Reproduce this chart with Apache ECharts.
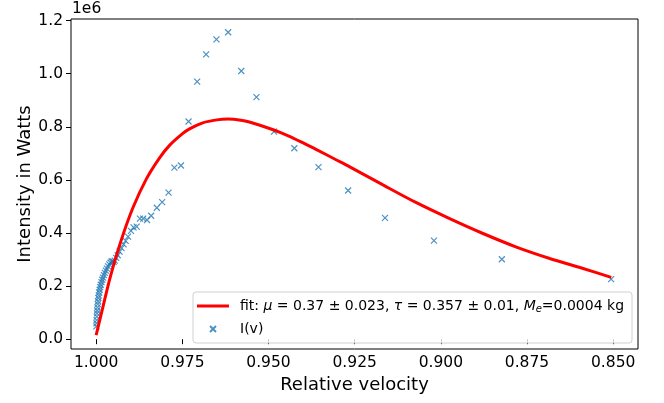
<!DOCTYPE html>
<html><head><meta charset="utf-8">
<script src="https://cdn.jsdelivr.net/npm/echarts@6/dist/echarts.min.js"></script>
<style>html,body{margin:0;padding:0;background:#fff}#c{width:664px;height:403px}</style>
</head><body><div id="c"></div>
<script>
const xTicks = [1.0, 0.975, 0.95, 0.925, 0.9, 0.875, 0.85];
const yTicks = [0, 200000, 400000, 600000, 800000, 1000000, 1200000];

const measuredV = [0.99995, 0.99990, 0.99985, 0.99980, 0.99975, 0.99970, 0.99962, 0.99955, 0.99945, 0.99935,
  0.99925, 0.99912, 0.99898, 0.99882, 0.99865, 0.99845, 0.99822, 0.99800, 0.99775, 0.99748,
  0.99718, 0.99688, 0.99655, 0.99620, 0.99585, 0.99555, 0.99525, 0.99495, 0.99460, 0.99420,
  0.99375, 0.99320, 0.99265, 0.99205, 0.99145, 0.99075, 0.98990, 0.98915, 0.98825, 0.98730,
  0.98635, 0.98525, 0.98405, 0.98240, 0.98085, 0.9790, 0.9773, 0.9754, 0.9732, 0.9707,
  0.9681, 0.9651, 0.9617, 0.9579, 0.9535, 0.9484, 0.9425, 0.9355, 0.9269, 0.9162,
  0.9020, 0.8823, 0.8506];
const measuredI = [48000, 60000, 72000, 85000, 97000, 108000, 120000, 132000, 143000, 155000,
  165000, 176000, 186000, 196000, 205000, 215000, 224000, 232000, 241000, 250000,
  258000, 266000, 274000, 282000, 288000, 292000, 294000, 291000, 296000, 306000,
  316000, 330000, 343000, 357000, 370000, 386000, 408000, 421000, 424000, 454000,
  454000, 449000, 465000, 495000, 516000, 552000, 646000, 654000, 820000, 970000,
  1073000, 1129000, 1156000, 1010000, 912000, 782000, 719000, 648000, 560000, 457000,
  371000, 301000, 226000];

const fitV = [1.0, 0.99803, 0.99589, 0.99270, 0.98934, 0.98546, 0.98160, 0.97871, 0.97485, 0.97291,
  0.96906, 0.96500, 0.96176, 0.95800, 0.95553, 0.94843, 0.94394, 0.94009, 0.93621, 0.93041,
  0.92656, 0.91692, 0.90724, 0.89759, 0.88794, 0.87827, 0.86862, 0.85897, 0.85057];
const fitI = [15000, 122000, 235000, 374000, 495000, 603000, 683000, 730000, 775000, 792000,
  815000, 826000, 829000, 825000, 818000, 788000, 764000, 740000, 715000, 676000,
  650000, 582000, 515000, 455000, 399000, 348000, 305000, 267000, 233000];

const FONT = 'DejaVu Sans';
const chart = echarts.init(document.getElementById('c'), null, {renderer: 'canvas'});
const xSym = 'path://M0,0M14,14M4,4L10,10M4,10L10,4';
const lineIcon = 'path://M0,0M32,14M0,5.5L32,5.5L32,8.5L0,8.5Z';

chart.setOption({
  animation: false,
  backgroundColor: '#fff',
  grid: {left: 71, right: 26, top: 19, bottom: 54, show: true, borderColor: '#000', borderWidth: 1, backgroundColor: 'transparent'},
  xAxis: {
    type: 'value', inverse: true, min: 0.8428, max: 1.0073,
    name: 'Relative velocity', nameLocation: 'middle', nameGap: 25,
    nameTextStyle: {fontFamily: FONT, fontSize: 18, color: '#000'},
    axisLine: {show: false},
    splitLine: {show: false},
    axisTick: {show: true, inside: false, length: 5, lineStyle: {color: '#000', width: 1}, customValues: xTicks},
    axisLabel: {show: true, margin: 6, fontFamily: FONT, fontSize: 15.5, color: '#000', customValues: xTicks,
      formatter: v => v.toFixed(3)}
  },
  yAxis: {
    type: 'value', min: -37000, max: 1206000,
    axisLine: {show: false},
    splitLine: {show: false},
    axisTick: {show: true, inside: false, length: 5, lineStyle: {color: '#000', width: 1}, customValues: yTicks},
    axisLabel: {show: true, margin: 8, fontFamily: FONT, fontSize: 15.5, color: '#000', customValues: yTicks,
      formatter: v => (v / 1e6).toFixed(1)}
  },
  graphic: [
    {type: 'text', left: 72, top: 1, style: {text: '1e6', fontFamily: FONT, fontSize: 15.5, fill: '#000'}},
    {type: 'text', x: 25, y: 184, rotation: Math.PI / 2,
      style: {text: 'Intensity in Watts', fontFamily: FONT, fontSize: 18, fill: '#000', align: 'center', verticalAlign: 'middle'}}
  ],
  legend: {
    left: 193, top: 292, orient: 'vertical', selectedMode: false,
    itemWidth: 32, itemHeight: 14, itemGap: 7,
    padding: [7, 8, 6, 4],
    borderColor: '#d0d0d0', borderWidth: 1, borderRadius: 3,
    backgroundColor: 'rgba(255,255,255,0.8)',
    data: [{name: 'fit', icon: lineIcon}, {name: 'I(v)'}],
    formatter: n => n === 'fit'
      ? 'fit: {i|μ} = 0.37 ± 0.023, {i|τ} = 0.357 ± 0.01, {i|M}{s|e}=0.0004 kg'
      : 'I(v)',
    textStyle: {fontFamily: FONT, fontSize: 14, color: '#000', padding: [0, 0, 0, 6],
      rich: {
        i: {fontFamily: FONT, fontSize: 14, fontStyle: 'italic', color: '#000'},
        s: {fontFamily: FONT, fontSize: 10, fontStyle: 'italic', color: '#000', padding: [6, 0, 0, 0]}
      }}
  },
  series: [
    {
      name: 'fit', type: 'line', smooth: 0.3, symbol: 'none', z: 3,
      lineStyle: {color: '#ff0000', width: 3}, itemStyle: {color: '#ff0000'},
      data: fitV.map((v, i) => [v, fitI[i]])
    },
    {
      name: 'I(v)', type: 'scatter', symbol: xSym, symbolSize: 14, z: 2,
      itemStyle: {color: 'rgba(0,0,0,0)', borderColor: '#1f77b4', borderWidth: 1.2},
      data: measuredV.map((v, i) => [v, measuredI[i]])
    }
  ]
});
</script></body></html>
